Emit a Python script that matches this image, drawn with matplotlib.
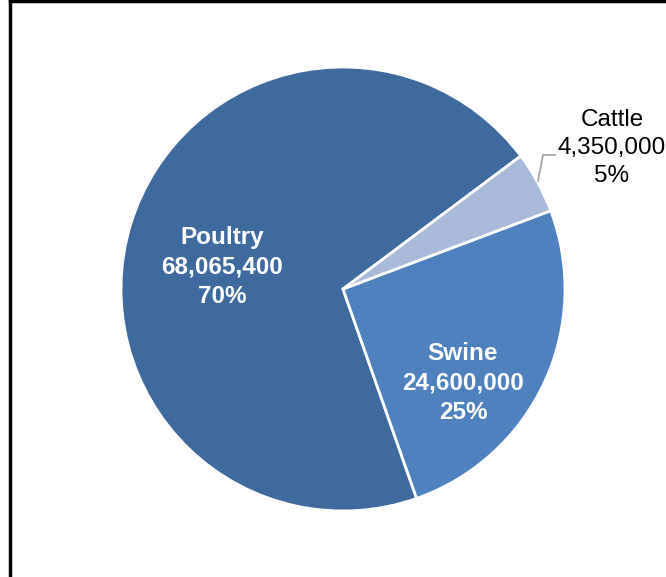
import matplotlib
matplotlib.use('Agg')
import matplotlib.pyplot as plt
from matplotlib.lines import Line2D

# data
labels = ['Poultry', 'Swine', 'Cattle']
values = [68065400, 24600000, 4350000]
percents = [70, 25, 5]
colors = ['#3F6A9E', '#4E81BD', '#A8B9D9']

plt.rcParams['font.family'] = ['Liberation Sans', 'DejaVu Sans']

fig = plt.figure(figsize=(6.66, 5.77), dpi=100)
ax = fig.add_axes([0, 0, 1, 1])

wedges, _ = ax.pie(values, colors=colors, startangle=36.8, counterclock=True,
                   center=(343, 288), radius=222,
                   wedgeprops=dict(edgecolor='white', linewidth=2),
                   frame=True)
ax.set_xlim(0, 666)
ax.set_ylim(0, 577)
ax.set_aspect('equal')
ax.axis('off')

def lab(i):
    return '%s\n%s\n%d%%' % (labels[i], format(values[i], ','), percents[i])

# inside labels
ax.text(222, 577 - 267, lab(0), color='white', fontweight='bold',
        fontsize=17.5, ha='center', va='center', linespacing=1.35)
ax.text(463, 577 - 383, lab(1), color='white', fontweight='bold',
        fontsize=17.5, ha='center', va='center', linespacing=1.35)
# outside label for cattle, with leader line
ax.text(612, 577 - 148, lab(2), color='black',
        fontsize=17.5, ha='center', va='center', linespacing=1.35)
ax.plot([538, 543, 555], [577 - 181, 577 - 155, 577 - 155],
        color='#A6A6A6', lw=1.3)

# chart border
fig.add_artist(Line2D([9.5 / 666, 9.5 / 666], [0, 1], color='black', lw=2.5,
                      transform=fig.transFigure))
fig.add_artist(Line2D([9.5 / 666, 1], [1 - 1.0 / 577, 1 - 1.0 / 577], color='black',
                      lw=2.5, transform=fig.transFigure))

fig.savefig('out.png', dpi=100, facecolor='white')
